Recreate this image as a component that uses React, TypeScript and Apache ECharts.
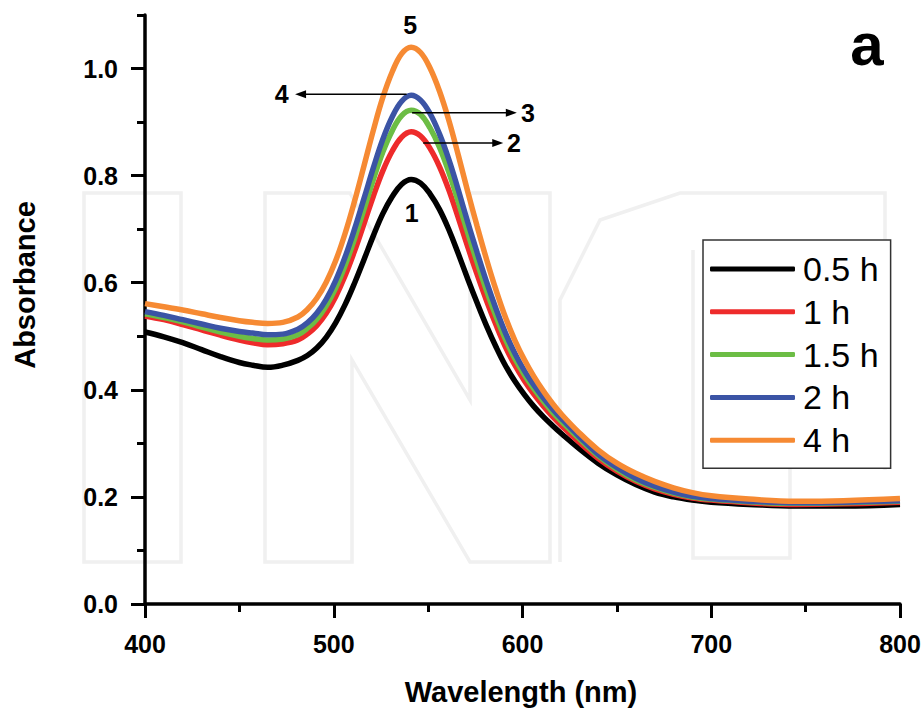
import React, { useEffect, useRef } from 'react';
import * as echarts from 'echarts';

// Wavelength grid (nm)
const wavelengths = [400, 410, 420, 430, 440, 450, 457, 465, 473,
  481, 486, 491, 496, 501, 506, 511, 516, 521, 526, 531, 536, 541, 546, 551, 556, 561, 566, 571, 576, 581, 586, 591, 596, 601, 606, 611, 616, 621,
  630, 640, 650, 660, 670, 680, 690, 700, 720, 745, 770, 800];

// Absorbance values
const abs05h = [0.508, 0.499, 0.488, 0.475, 0.462, 0.451, 0.446, 0.442, 0.446,
  0.455, 0.464, 0.478, 0.498, 0.525, 0.559, 0.599, 0.643, 0.688, 0.729, 0.761, 0.784, 0.793, 0.786, 0.766, 0.737, 0.699, 0.654, 0.607, 0.562, 0.519, 0.480, 0.445, 0.416, 0.391, 0.369, 0.350, 0.333, 0.317,
  0.290, 0.263, 0.241, 0.223, 0.209, 0.200, 0.194, 0.190, 0.186, 0.183, 0.183, 0.186];
const abs1h = [0.538, 0.531, 0.522, 0.512, 0.502, 0.493, 0.488, 0.484, 0.486,
  0.493, 0.504, 0.520, 0.543, 0.574, 0.613, 0.659, 0.710, 0.762, 0.809, 0.846, 0.872, 0.882, 0.874, 0.851, 0.817, 0.773, 0.721, 0.667, 0.615, 0.566, 0.521, 0.480, 0.446, 0.417, 0.392, 0.370, 0.350, 0.332,
  0.302, 0.272, 0.248, 0.229, 0.215, 0.205, 0.198, 0.194, 0.189, 0.186, 0.187, 0.190];
const abs15h = [0.542, 0.535, 0.527, 0.517, 0.508, 0.500, 0.496, 0.493, 0.495,
  0.503, 0.515, 0.532, 0.557, 0.590, 0.632, 0.682, 0.737, 0.793, 0.844, 0.884, 0.912, 0.922, 0.914, 0.889, 0.853, 0.806, 0.751, 0.693, 0.638, 0.585, 0.537, 0.494, 0.458, 0.428, 0.402, 0.379, 0.358, 0.340,
  0.309, 0.277, 0.252, 0.232, 0.218, 0.207, 0.200, 0.196, 0.191, 0.188, 0.189, 0.192];
const abs2h = [0.546, 0.539, 0.531, 0.523, 0.515, 0.509, 0.506, 0.503, 0.504,
  0.513, 0.525, 0.543, 0.569, 0.604, 0.648, 0.700, 0.757, 0.815, 0.868, 0.910, 0.939, 0.950, 0.941, 0.916, 0.878, 0.830, 0.773, 0.713, 0.656, 0.601, 0.551, 0.506, 0.468, 0.436, 0.409, 0.385, 0.364, 0.345,
  0.313, 0.280, 0.255, 0.235, 0.220, 0.209, 0.201, 0.197, 0.192, 0.189, 0.190, 0.193];
const abs4h = [0.561, 0.555, 0.549, 0.542, 0.535, 0.529, 0.526, 0.524, 0.526,
  0.536, 0.550, 0.571, 0.601, 0.641, 0.692, 0.752, 0.818, 0.885, 0.946, 0.994, 1.028, 1.040, 1.030, 1.001, 0.958, 0.903, 0.838, 0.770, 0.705, 0.643, 0.586, 0.535, 0.492, 0.456, 0.425, 0.398, 0.374, 0.353,
  0.320, 0.288, 0.263, 0.244, 0.229, 0.217, 0.208, 0.202, 0.196, 0.192, 0.193, 0.197];

const seriesNames = ['0.5 h', '1 h', '1.5 h', '2 h', '4 h'];
const seriesValues = [abs05h, abs1h, abs15h, abs2h, abs4h];
const seriesColors = ['#000000', '#ee2b2b', '#6cbd45', '#3b54a5', '#f68a33'];

const yMajorTicks = [0, 0.2, 0.4, 0.6, 0.8, 1.0];
const yMinorTicks = [0.1, 0.3, 0.5, 0.7, 0.9, 1.1];

// Curve numbering labels (data coordinates)
const curveLabels = ['5', '1', '4', '3', '2'];
const curveLabelX = [540.5, 541.3, 472.4, 602.9, 595.5];
const curveLabelY = [1.081, 0.7296, 0.952, 0.9175, 0.861];

// Arrows (from -> to, data coordinates)
const arrowFromX = [538.6, 541.5, 547.4];
const arrowToX = [479.5, 597.0, 589.8];
const arrowY = [0.952, 0.9175, 0.861];

const FONT = '"Liberation Sans", Arial, Helvetica, sans-serif';

export default function App() {
  const ref = useRef<HTMLDivElement>(null);
  useEffect(() => {
    document.body.style.margin = '0';
    const chart = echarts.init(ref.current!, undefined, { renderer: 'svg' });
    const option: any = {
      animation: false,
      backgroundColor: '#ffffff',
      grid: { left: 145, right: 24, top: 15, bottom: 104, containLabel: false, outerBoundsMode: 'none' },
      xAxis: {
        type: 'value',
        min: 400,
        max: 800,
        interval: 100,
        axisLine: { show: true, lineStyle: { color: '#000', width: 3.5 } },
        axisTick: { show: true, length: 14, lineStyle: { color: '#000', width: 3 } },
        minorTick: { show: true, splitNumber: 2, length: 8, lineStyle: { color: '#000', width: 3 } },
        splitLine: { show: false },
        minorSplitLine: { show: false },
        axisLabel: { fontSize: 25, fontWeight: 'bold', fontFamily: FONT, color: '#000', margin: 27 },
      },
      yAxis: [
        {
          type: 'value',
          min: 0,
          max: 1.1,
          interval: 0.2,
          position: 'left',
          axisLine: { show: true, lineStyle: { color: '#000', width: 3.5 } },
          axisTick: { show: true, length: 14, customValues: yMajorTicks, lineStyle: { color: '#000', width: 3 } },
          splitLine: { show: false },
          axisLabel: {
            customValues: yMajorTicks,
            fontSize: 25, fontWeight: 'bold', fontFamily: FONT, color: '#000', margin: 27,
            formatter: (v: number) => v.toFixed(1),
          },
        },
        {
          type: 'value',
          min: 0,
          max: 1.1,
          interval: 0.1,
          position: 'left',
          offset: 0,
          axisLine: { show: false },
          axisTick: { show: true, length: 8, customValues: yMinorTicks, lineStyle: { color: '#000', width: 3 } },
          splitLine: { show: false },
          axisLabel: { show: false },
        },
      ],
      legend: {
        orient: 'vertical',
        left: 703,
        top: 240,
        padding: [12, 12, 11, 7],
        itemWidth: 85,
        itemHeight: 5,
        itemGap: 8.8,
        icon: 'roundRect',
        borderColor: '#333',
        borderWidth: 1.5,
        backgroundColor: '#fff',
        data: seriesNames,
        textStyle: { fontSize: 34, lineHeight: 34, fontFamily: FONT, color: '#000', padding: [0, 0, 0, 3] },
      },
      series: seriesNames.map((name, i) => ({
        name,
        type: 'line',
        xAxisIndex: 0,
        yAxisIndex: 0,
        smooth: 0.4,
        showSymbol: false,
        symbol: 'none',
        color: seriesColors[i],
        lineStyle: { color: seriesColors[i], width: 5.5 },
        data: wavelengths.map((w, j) => [w, seriesValues[i][j]]),
        z: 2 + i,
      })),
    };
    chart.setOption(option);

    const toPx = (p: number[]) => chart.convertToPixel({ xAxisIndex: 0, yAxisIndex: 0 }, p) as number[];
    const gfx: any[] = [];

    // faint watermark outlines
    const wm = { stroke: '#f0f0f0', lineWidth: 3.5, fill: null };
    gfx.push({ type: 'rect', z: 0, silent: true, shape: { x: 84, y: 193, width: 97, height: 369 }, style: wm });
    gfx.push({ type: 'polygon', z: 0, silent: true, shape: { points: [[265, 562], [265, 193], [350, 193], [470, 400], [470, 193], [550, 193], [550, 562], [470, 562], [352, 360], [352, 562]] }, style: wm });
    gfx.push({ type: 'polyline', z: 0, silent: true, shape: { points: [[560, 562], [560, 300], [600, 220], [680, 193], [885, 193], [885, 470]] }, style: wm });
    gfx.push({ type: 'polyline', z: 0, silent: true, shape: { points: [[693, 250], [693, 558], [790, 558], [790, 250]] }, style: wm });

    curveLabels.forEach((t, i) => {
      const [x, y] = toPx([curveLabelX[i], curveLabelY[i]]);
      gfx.push({
        type: 'text', z: 100, x, y,
        style: { text: t, fontSize: 25, fontWeight: 'bold', fontFamily: FONT, fill: '#000', align: 'center', verticalAlign: 'middle' },
      });
    });
    arrowFromX.forEach((fx, i) => {
      const [x1, y1] = toPx([fx, arrowY[i]]);
      const [x2, y2] = toPx([arrowToX[i], arrowY[i]]);
      const dir = x2 > x1 ? 1 : -1;
      gfx.push({ type: 'line', z: 100, shape: { x1, y1, x2: x2 - dir * 6, y2 }, style: { stroke: '#000', lineWidth: 1.5 } });
      gfx.push({
        type: 'polygon', z: 100,
        shape: { points: [[x2, y2], [x2 - dir * 11, y2 - 4], [x2 - dir * 11, y2 + 4]] },
        style: { fill: '#000' },
      });
    });
    gfx.push({
      type: 'text', z: 100, x: 25, y: 285, rotation: Math.PI / 2,
      style: { text: 'Absorbance', fontSize: 29, fontWeight: 'bold', fontFamily: FONT, fill: '#000', align: 'center', verticalAlign: 'middle' },
    });
    gfx.push({
      type: 'text', z: 100, x: 521, y: 692,
      style: { text: 'Wavelength (nm)', fontSize: 29, fontWeight: 'bold', fontFamily: FONT, fill: '#000', align: 'center', verticalAlign: 'middle' },
    });
    gfx.push({
      type: 'text', z: 100, x: 867, y: 44,
      style: { text: 'a', fontSize: 60, fontWeight: 'bold', fontFamily: FONT, fill: '#000', align: 'center', verticalAlign: 'middle' },
    });
    chart.setOption({ graphic: gfx });

    return () => chart.dispose();
  }, []);
  return <div ref={ref} style={{ width: 924, height: 708 }} />;
}
